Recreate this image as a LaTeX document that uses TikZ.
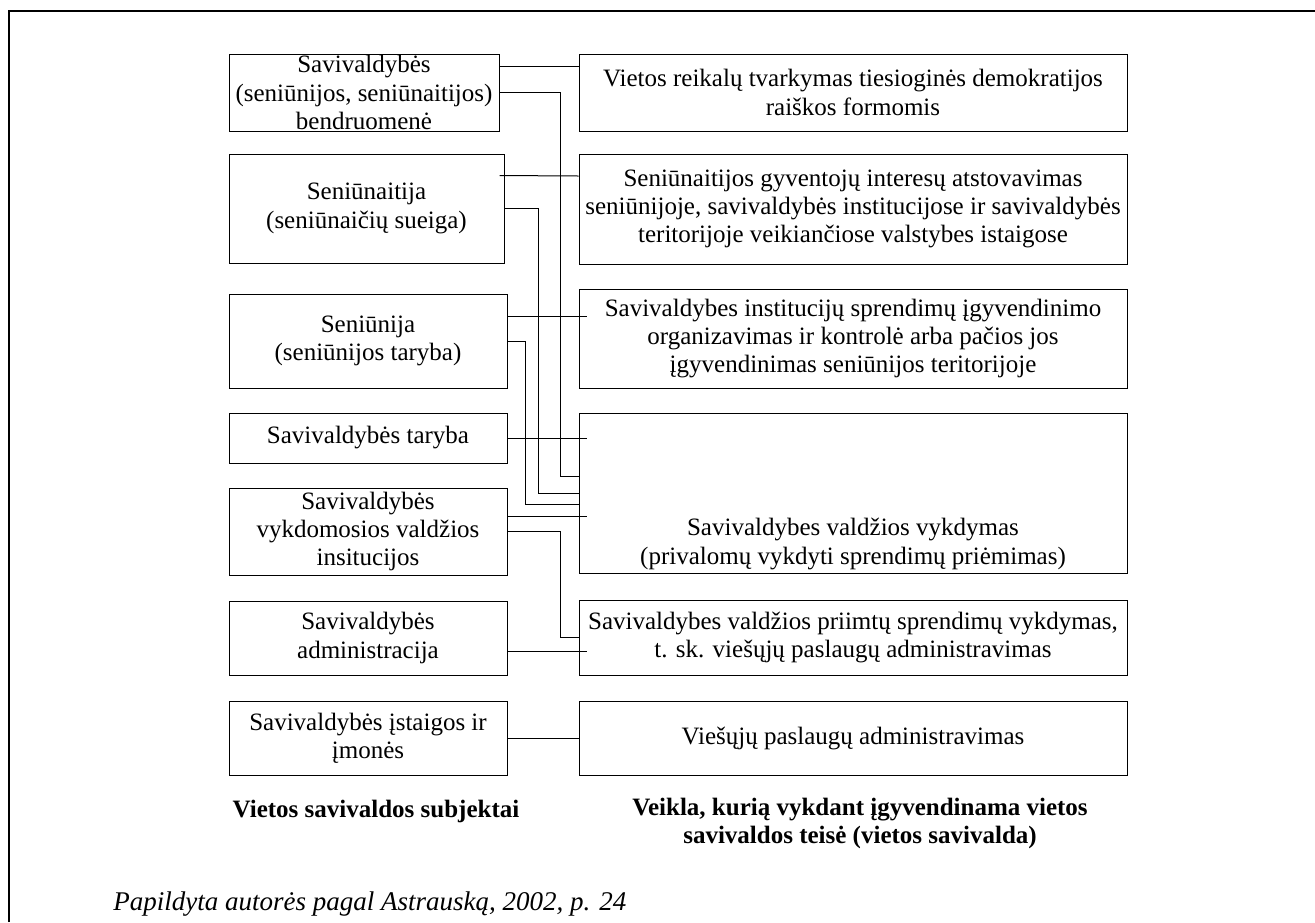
\documentclass[tikz,border=0pt]{standalone}
\usepackage{fontspec}
\setmainfont{Liberation Serif}
\usetikzlibrary{calc}

\tikzset{
	subj/.style={draw, line width=0.5pt, align=center, inner sep=0pt, font=\fontsize{12.5}{14.2}\selectfont},
	act/.style={subj, minimum width=274pt},
	link/.style={line width=0.5pt},
	over/.style={link, shorten >=-4pt},
	heading/.style={align=center, font=\fontsize{12.5}{14}\selectfont\bfseries}
}

\begin{document}
\begin{tikzpicture}[x=0.5pt, y=-0.5pt]
		%%%%% START %%%%%
		\useasboundingbox (0,0) rectangle (1315,922);
		
		\draw[line width=1.3pt] (9,922) -- (9,11) -- (1315,11);
		
		% subjektai
		\node[subj, minimum width=135pt, minimum height=38.5pt] (s1) at (364,92.5) {Savivaldybės\\(seniūnijos, seniūnaitijos)\\bendruomenė};
		\node[subj, minimum width=137.5pt, minimum height=54.5pt] (s2) at (366.5,208.5) {Seniūnaitija\\(seniūnaičių sueiga)};
		\node[subj, minimum width=139pt, minimum height=47pt] (s3) at (368,341) {Seniūnija\\(seniūnijos taryba)};
		\node[subj, minimum width=139pt, minimum height=25pt] (s4) at (368,438) {Savivaldybės taryba};
		\node[subj, minimum width=139pt, minimum height=43.5pt] (s5) at (368,531.5) {Savivaldybės\\vykdomosios valdžios\\insitucijos};
		\node[subj, minimum width=139pt, minimum height=37pt] (s6) at (368,638) {Savivaldybės\\administracija};
		\node[subj, minimum width=139pt, minimum height=37pt] (s7) at (368,738) {Savivaldybės įstaigos ir\\įmonės};
		
		% veikla
		\node[act, minimum height=38.5pt] (r1) at (853,92.5) {Vietos reikalų tvarkymas tiesioginės demokratijos\\raiškos formomis};
		\node[act, minimum height=55pt] (r2) at (853,209) {Seniūnaitijos gyventojų interesų atstovavimas\\seniūnijoje, savivaldybės institucijose ir savivaldybės\\teritorijoje veikiančiose valstybes istaigose};
		\node[act, minimum height=49.5pt] (r3) at (853,338.5) {Savivaldybes institucijų sprendimų įgyvendinimo\\organizavimas ir kontrolė arba pačios jos\\įgyvendinimas seniūnijos teritorijoje};
		\node[act, minimum height=80pt] (r4) at (853,493) {};
		\node[subj, draw=none] (r4txt) at ($(r4.center)+(0,51)$) {Savivaldybes valdžios vykdymas\\(privalomų vykdyti sprendimų priėmimas)};
		\node[act, minimum height=37.5pt] (r5) at (853,637.5) {Savivaldybes valdžios priimtų sprendimų vykdymas,\\t. sk. viešųjų paslaugų administravimas};
		\node[act, minimum height=37pt] (r6) at (853,738) {Viešųjų paslaugų administravimas};
		
		% jungtys
		\draw[link] ($(s1.east)+(0,-26)$) -- ($(r1.west)+(0,-26)$);
		\draw[link] (s1.east) -- ++(61,0) |- ($(r4.west)+(0,-17)$);
		\draw[link] ($(s2.east)+(-5,-33)$) -- ($(r2.west)+(0,-33)$);
		\draw[link] (s2.east) -- ++(34,0) |- (r4.west);
		\draw[over] ($(s3.east)+(0,-25)$) -- ($(s3.east -| r3.west)+(0,-25)$);
		\draw[link] (s3.east) -- ++(18,0) |- ($(r4.west)+(0,11)$);
		\draw[over] (s4.east) -- (s4.east -| r4.west);
		\draw[over] ($(s5.east)+(0,-15.5)$) -- ($(s5.east -| r4.west)+(0,-15.5)$);
		\draw[link] (s5.east) -- ++(53,0) |- (r5.west);
		\draw[over] ($(s6.east)+(0,13)$) -- ($(s6.east -| r5.west)+(0,13)$);
		\draw[link] (s7.east) -- (r6.west);
		
		% antraštės
		\node[heading] (h1) at (376,811) {Vietos savivaldos subjektai};
		\node[heading] (h2) at (860,823) {Veikla, kurią vykdant įgyvendinama vietos\\savivaldos teisė (vietos savivalda)};
		\node[anchor=west, inner sep=0pt, font=\fontsize{13.5}{15}\selectfont\itshape] (src) at (113,904) {Papildyta autorės pagal Astrauską, 2002, p. 24};
		
		%%%%% END %%%%%
\end{tikzpicture}
\end{document}
